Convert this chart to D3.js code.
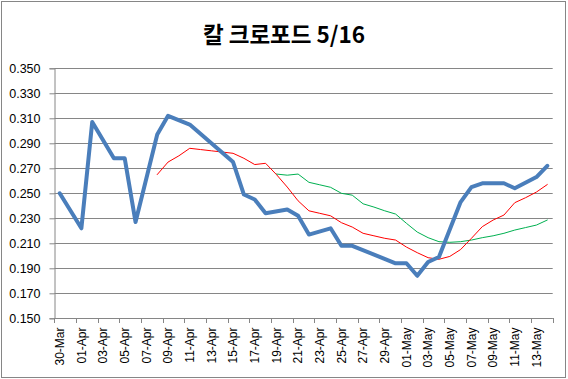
<!DOCTYPE html>
<html><head><meta charset="utf-8">
<script src="https://cdn.jsdelivr.net/npm/d3@7"></script>
<style>html,body{margin:0;padding:0;background:#fff;}svg{display:block;}</style>
</head><body>
<svg id="chart" width="568" height="379"></svg>
<script>
const title = "칼 크로포드 5/16";
const dates = ["30-Mar","31-Mar","01-Apr","02-Apr","03-Apr","04-Apr","05-Apr","06-Apr","07-Apr","08-Apr",
  "09-Apr","10-Apr","11-Apr","12-Apr","13-Apr","14-Apr","15-Apr","16-Apr","17-Apr","18-Apr",
  "19-Apr","20-Apr","21-Apr","22-Apr","23-Apr","24-Apr","25-Apr","26-Apr","27-Apr","28-Apr",
  "29-Apr","30-Apr","01-May","02-May","03-May","04-May","05-May","06-May","07-May","08-May",
  "09-May","10-May","11-May","12-May","13-May","14-May"];
const avgValues = [0.250,null,0.222,0.307,null,0.278,0.278,0.227,null,0.297,
  0.312,null,0.305,null,null,null,0.275,0.249,0.245,0.234,
  null,0.237,0.232,0.217,null,0.222,0.208,0.208,null,null,
  null,0.194,0.194,0.184,0.195,0.199,null,0.243,0.255,0.258,
  null,0.258,0.254,null,0.263,0.272];
const shortAvg = [null,null,null,null,null,null,null,null,null,0.265,
  0.275,0.280,0.286,0.285,0.284,0.283,0.282,0.278,0.273,0.274,
  0.265,0.255,0.244,0.236,0.234,0.232,0.2265,0.223,0.218,0.216,
  0.214,0.2126,0.207,0.2025,0.1985,0.1972,0.1995,0.205,0.214,0.2233,
  0.2286,0.2326,0.2425,0.2465,0.251,0.257];
const longAvg = [null,null,null,null,null,null,null,null,null,null,
  null,null,null,null,null,null,null,null,null,null,
  0.2654,0.2645,0.2654,0.2588,0.2568,0.2548,0.250,0.2485,0.2416,0.239,
  0.236,0.2334,0.226,0.219,0.2145,0.2113,0.2108,0.2113,0.2126,0.2145,
  0.216,0.218,0.2206,0.2226,0.2246,0.2286];
const yTicks = [0.150,0.170,0.190,0.210,0.230,0.250,0.270,0.290,0.310,0.330,0.350];

const svg = d3.select("#chart");
const L = 54.3, R = 552.7, T = 68.3, B = 318.3;
const grey = "#868686";
const font = "'Liberation Sans', Arial, sans-serif";

svg.append("rect").attr("x",1.5).attr("y",1.5).attr("width",564).attr("height",376)
  .attr("fill","#fff").attr("stroke",grey).attr("stroke-width",1);

svg.append("text").attr("x",284).attr("y",43).attr("text-anchor","middle")
  .attr("font-family","'Noto Sans CJK KR', sans-serif").attr("font-weight","bold")
  .attr("font-size",22.5).text(title);

const x = d3.scaleBand().domain(dates).range([L,R]).padding(0);
const y = d3.scaleLinear().domain([0.15,0.35]).range([B,T]);
const cx = d => x(d) + x.bandwidth()/2;

// gridlines
svg.append("g").selectAll("line").data(yTicks).join("line")
  .attr("x1",L).attr("x2",R).attr("y1",d=>Math.round(y(d))+0.5).attr("y2",d=>Math.round(y(d))+0.5)
  .attr("stroke",grey).attr("stroke-width",1);

// y axis
const yAxis = svg.append("g").attr("transform",`translate(${Math.round(L)+0.5},0)`)
  .call(d3.axisLeft(y).tickValues(yTicks).tickFormat(d3.format(".3f")).tickSize(5).tickPadding(9));
yAxis.select(".domain").attr("stroke",grey);
yAxis.selectAll(".tick line").attr("stroke",grey);
yAxis.selectAll(".tick text").attr("font-family",font).attr("font-size",12.5).attr("fill","#000");

// x axis
const labelDates = dates.filter((d,i)=>i%2===0);
const xAxis = svg.append("g").attr("transform",`translate(0,${Math.round(B)+0.5})`)
  .call(d3.axisBottom(x).tickValues(labelDates).tickSize(0).tickPadding(0));
xAxis.select(".domain").attr("stroke",grey).attr("d",`M${L},0H${R}`);
xAxis.selectAll(".tick text")
  .attr("font-family",font).attr("font-size",12).attr("fill","#000")
  .attr("text-anchor","end").attr("transform","rotate(-90)")
  .attr("x",-9).attr("y",0).attr("dy","0.35em");
const boundaries = dates.filter((d,i)=>i%2===0).map(d=>x(d)).concat([R]);
svg.append("g").selectAll("line").data(boundaries).join("line")
  .attr("x1",d=>Math.round(d)+0.5).attr("x2",d=>Math.round(d)+0.5)
  .attr("y1",Math.round(B)).attr("y2",Math.round(B)+5)
  .attr("stroke",grey);

function drawLine(values,color,width){
  const pts = dates.map((d,i)=>({d,v:values[i]})).filter(p=>p.v!==null);
  const line = d3.line().x(p=>cx(p.d)).y(p=>y(p.v));
  svg.append("path").datum(pts).attr("d",line).attr("fill","none")
    .attr("stroke",color).attr("stroke-width",width).attr("stroke-linejoin","round").attr("stroke-linecap","round");
}
drawLine(longAvg,"#00B050",1);
drawLine(shortAvg,"#FF0000",1);
drawLine(avgValues,"#4A7EBB",4);
</script>
</body></html>
